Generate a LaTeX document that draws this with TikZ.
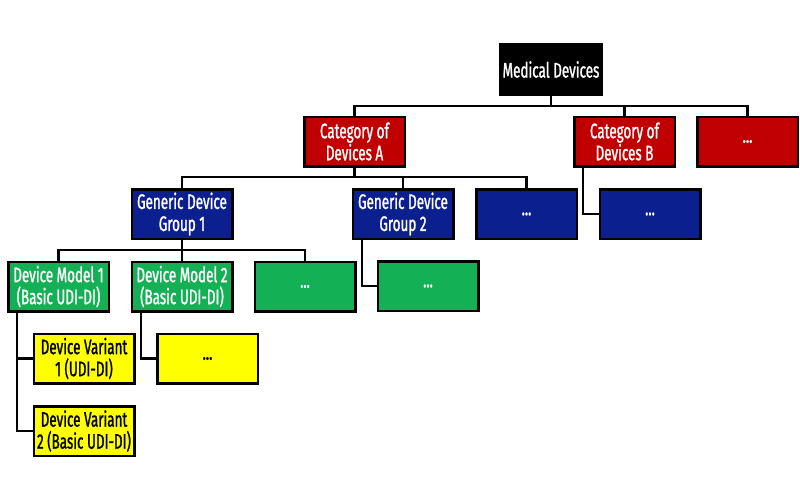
\documentclass[tikz,border=0pt]{standalone}
\usepackage{fontspec}
\newfontfamily\boxfont[FakeStretch=0.64,FakeBold=1.2]{Fira Sans}
\definecolor{cred}{HTML}{C00000}
\definecolor{cblue}{HTML}{0B1F8F}
\definecolor{cgreen}{HTML}{14B055}
\definecolor{cyellow}{HTML}{FFFF00}
\tikzset{
  box/.style={draw=black, line width=2.5pt, minimum width=100.5pt, minimum height=49.5pt,
    inner sep=0pt, align=center, text=white, font=\boxfont\fontsize{21}{22}\selectfont},
  blackbox/.style={box, fill=black, minimum width=101.5pt, minimum height=50.5pt},
  redbox/.style={box, fill=cred},
  bluebox/.style={box, fill=cblue},
  greenbox/.style={box, fill=cgreen},
  yellowbox/.style={box, fill=cyellow, text=black},
  conn/.style={draw=black, line width=2.5pt},
}
\begin{document}
\begin{tikzpicture}[x=1pt,y=-1pt]
\useasboundingbox (0,0) rectangle (800,501);
\node[blackbox] (md) at (551,69.5) {Medical Devices};
\node[redbox] (catA) at (354.5,141.5) {Category of\\Devices A};
\node[redbox] (catB) at (624.5,141.5) {Category of\\Devices B};
\node[redbox] (catX) at (747.5,141.5) {...};
\node[bluebox] (g1) at (182,214) {Generic Device\\Group 1};
\node[bluebox] (g2) at (403,214) {Generic Device\\Group 2};
\node[bluebox] (bX1) at (526.5,214) {...};
\node[bluebox] (bX2) at (650,214) {...};
\node[greenbox] (m1) at (58.5,286.5) {Device Model 1\\(Basic UDI-DI)};
\node[greenbox] (m2) at (182,286.5) {Device Model 2\\(Basic UDI-DI)};
\node[greenbox] (gX1) at (305,286.5) {...};
\node[greenbox] (gX2) at (428,286) {...};
\node[yellowbox] (v1) at (84,358.5) {Device Variant\\1 (UDI-DI)};
\node[yellowbox] (v2) at (84,431) {Device Variant\\2 (Basic UDI-DI)};
\node[yellowbox] (yX) at (207.5,358.5) {...};
\coordinate (b0) at (551,106);
\coordinate (b1) at (354.5,177);
\coordinate (b2) at (182,250);
% level 1
\draw[conn] (md.south) -- (md.south |- b0);
\draw[conn] (catA.north) |- (b0) -| (catX.north);
\draw[conn] (catB.north) -- (catB.north |- b0);
% level 2
\draw[conn] (catA.south) -- (b1);
\draw[conn] (g1.north) |- (b1) -| (bX1.north);
\draw[conn] (g2.north) -- (g2.north |- b1);
\draw[conn] ([xshift=-41.5pt]catB.south) |- (bX2.west);
% level 3
\draw[conn] (g1.south) -- (b2);
\draw[conn] (m1.north) |- (b2) -| (gX1.north);
\draw[conn] (m2.north) -- (m2.north |- b2);
\draw[conn] ([xshift=-41pt]g2.south) |- (gX2.west);
% level 4
\draw[conn] ([xshift=-41.5pt]m1.south) |- (v1.west);
\draw[conn] ([xshift=-41.5pt]m1.south) |- (v2.west);
\draw[conn] ([xshift=-41pt]m2.south) |- (yX.west);
\end{tikzpicture}
\end{document}
